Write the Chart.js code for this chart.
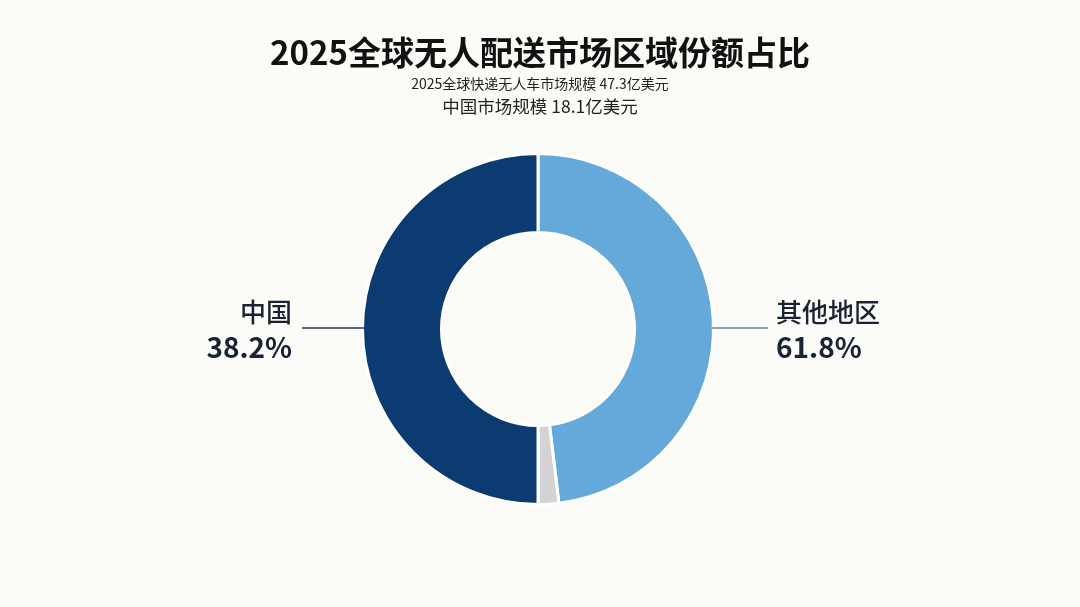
<!DOCTYPE html>
<html lang="zh-CN">
<head>
<meta charset="utf-8">
<title>2025全球无人配送市场区域份额占比</title>
<script src="https://cdn.jsdelivr.net/npm/chart.js@4.4.1/dist/chart.umd.min.js"></script>
<style>
    html, body { margin: 0; padding: 0; background: #fbfbf7; }
    #wrap { width: 1080px; height: 607px; position: relative; }
</style>
</head>
<body>
<div id="wrap"><canvas id="chartShare"></canvas></div>
<script>
// -------------------------------------------------------
// Data (slice sizes as drawn, labels as printed)
// -------------------------------------------------------
const regions     = ['其他地区', '', '中国'];
const sliceValues = [48.1, 1.9, 50.0];
const sliceColors = ['#65a9da', '#d3d3d3', '#0b3b70'];
const shareLabels = ['61.8%', '', '38.2%'];

const titleText = '2025全球无人配送市场区域份额占比';
const subtitles = ['2025全球快递无人车市场规模 47.3亿美元', '中国市场规模 18.1亿美元'];

const FONT = '"Noto Sans CJK SC", "Noto Sans", sans-serif';

// -------------------------------------------------------
// Title, subtitles and side labels with leader lines
// -------------------------------------------------------
const annotations = {
    id: 'annotations',
    afterDraw(chart) {
        const ctx = chart.ctx;
        const arcs = chart.getDatasetMeta(0).data;
        const cx = arcs[0].x, cy = arcs[0].y;
        const r = arcs[0].outerRadius - 1.5;

        ctx.save();
        ctx.textBaseline = 'middle';
        ctx.textAlign = 'center';
        ctx.fillStyle = '#111111';
        ctx.font = `700 33px ${FONT}`;
        ctx.fillText(titleText, 540, 52);
        ctx.fillStyle = '#222222';
        ctx.font = `400 14px ${FONT}`;
        ctx.fillText(subtitles[0], 540, 84);
        ctx.font = `400 17.5px ${FONT}`;
        ctx.fillText(subtitles[1], 540, 106);

        // left: 中国
        ctx.lineWidth = 1.5;
        ctx.strokeStyle = '#2c3a55';
        ctx.beginPath();
        ctx.moveTo(cx - r, cy - 1);
        ctx.lineTo(cx - r - 62, cy - 1);
        ctx.stroke();
        ctx.textAlign = 'right';
        ctx.fillStyle = '#1a2236';
        ctx.font = `500 26px ${FONT}`;
        ctx.fillText(regions[2], cx - r - 72, cy - 17);
        ctx.font = `600 28px ${FONT}`;
        ctx.fillText(shareLabels[2], cx - r - 72, cy + 18);

        // right: 其他地区
        ctx.strokeStyle = '#6687a6';
        ctx.beginPath();
        ctx.moveTo(cx + r, cy - 1);
        ctx.lineTo(cx + r + 56, cy - 1);
        ctx.stroke();
        ctx.textAlign = 'left';
        ctx.font = `500 26px ${FONT}`;
        ctx.fillText(regions[0], cx + r + 64, cy - 17);
        ctx.font = `600 28px ${FONT}`;
        ctx.fillText(shareLabels[0], cx + r + 64, cy + 18);
        ctx.restore();
    }
};

new Chart(document.getElementById('chartShare').getContext('2d'), {
    type: 'doughnut',
    data: {
        labels: regions,
        datasets: [{
            data: sliceValues,
            backgroundColor: sliceColors,
            borderColor: '#ffffff',
            borderWidth: 3
        }]
    },
    options: {
        responsive: true,
        maintainAspectRatio: false,
        animation: false,
        cutout: '55%',
        layout: { padding: { top: 152, bottom: 101, left: 0, right: 4 } },
        plugins: {
            legend: { display: false },
            tooltip: { enabled: false }
        }
    },
    plugins: [annotations]
});
</script>
</body>
</html>
